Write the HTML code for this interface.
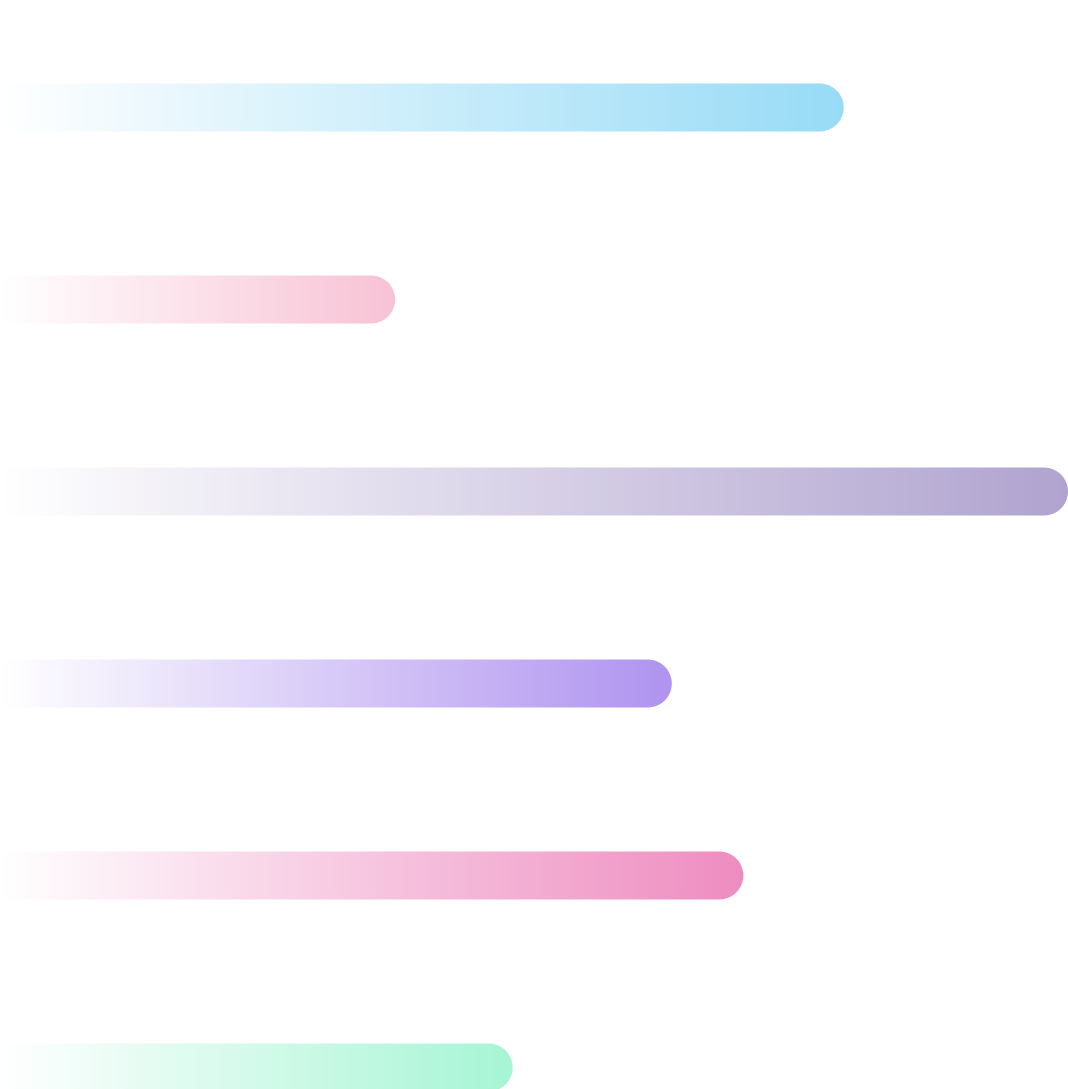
<!DOCTYPE html>
<html>
<head>
<meta charset="utf-8">
<style>
  html, body { margin: 0; padding: 0; background: #ffffff; }
  body { width: 1068px; height: 1089px; overflow: hidden; font-family: "Liberation Sans", sans-serif; }
  svg { display: block; }
</style>
</head>
<body>
<svg id="chart" width="1068" height="1089" viewBox="0 0 1068 1089" xmlns="http://www.w3.org/2000/svg">
  <defs id="defs"></defs>
  <g id="bars"></g>
</svg>
<script>
const categories = ["A", "B", "C", "D", "E", "F"];
const values = [79, 37, 100, 62.9, 69.6, 48];
const colors = ["#97dbf6", "#f7c2d5", "#b0a3cf", "#af93f0", "#ee8cc0", "#a6f5d5"];

const NS = "http://www.w3.org/2000/svg";
const maxValue = 100;
const chartWidth = 1068;
const barH = 48;
const firstCenter = 107.5;
const step = 192;
function xScale(v) { return v / maxValue * chartWidth; }
function yScale(i) { return firstCenter + i * step; }

const defs = document.getElementById("defs");
const g = document.getElementById("bars");
categories.forEach((c, i) => {
  const grad = document.createElementNS(NS, "linearGradient");
  grad.setAttribute("id", "grad" + i);
  grad.setAttribute("gradientUnits", "userSpaceOnUse");
  grad.setAttribute("x1", 0); grad.setAttribute("x2", xScale(values[i]));
  grad.setAttribute("y1", 0); grad.setAttribute("y2", 0);
  const s1 = document.createElementNS(NS, "stop");
  s1.setAttribute("offset", "0"); s1.setAttribute("stop-color", colors[i]); s1.setAttribute("stop-opacity", "0");
  const s2 = document.createElementNS(NS, "stop");
  s2.setAttribute("offset", "1"); s2.setAttribute("stop-color", colors[i]); s2.setAttribute("stop-opacity", "1");
  grad.appendChild(s1); grad.appendChild(s2);
  defs.appendChild(grad);

  const rect = document.createElementNS(NS, "rect");
  
  
  rect.setAttribute("x", -30);
  rect.setAttribute("y", yScale(i) - barH / 2);
  rect.setAttribute("width", xScale(values[i]) + 30);
  rect.setAttribute("height", barH);
  rect.setAttribute("rx", barH / 2);
  rect.setAttribute("fill", "url(#grad" + i + ")");
  g.appendChild(rect);
});
</script>
</body>
</html>
